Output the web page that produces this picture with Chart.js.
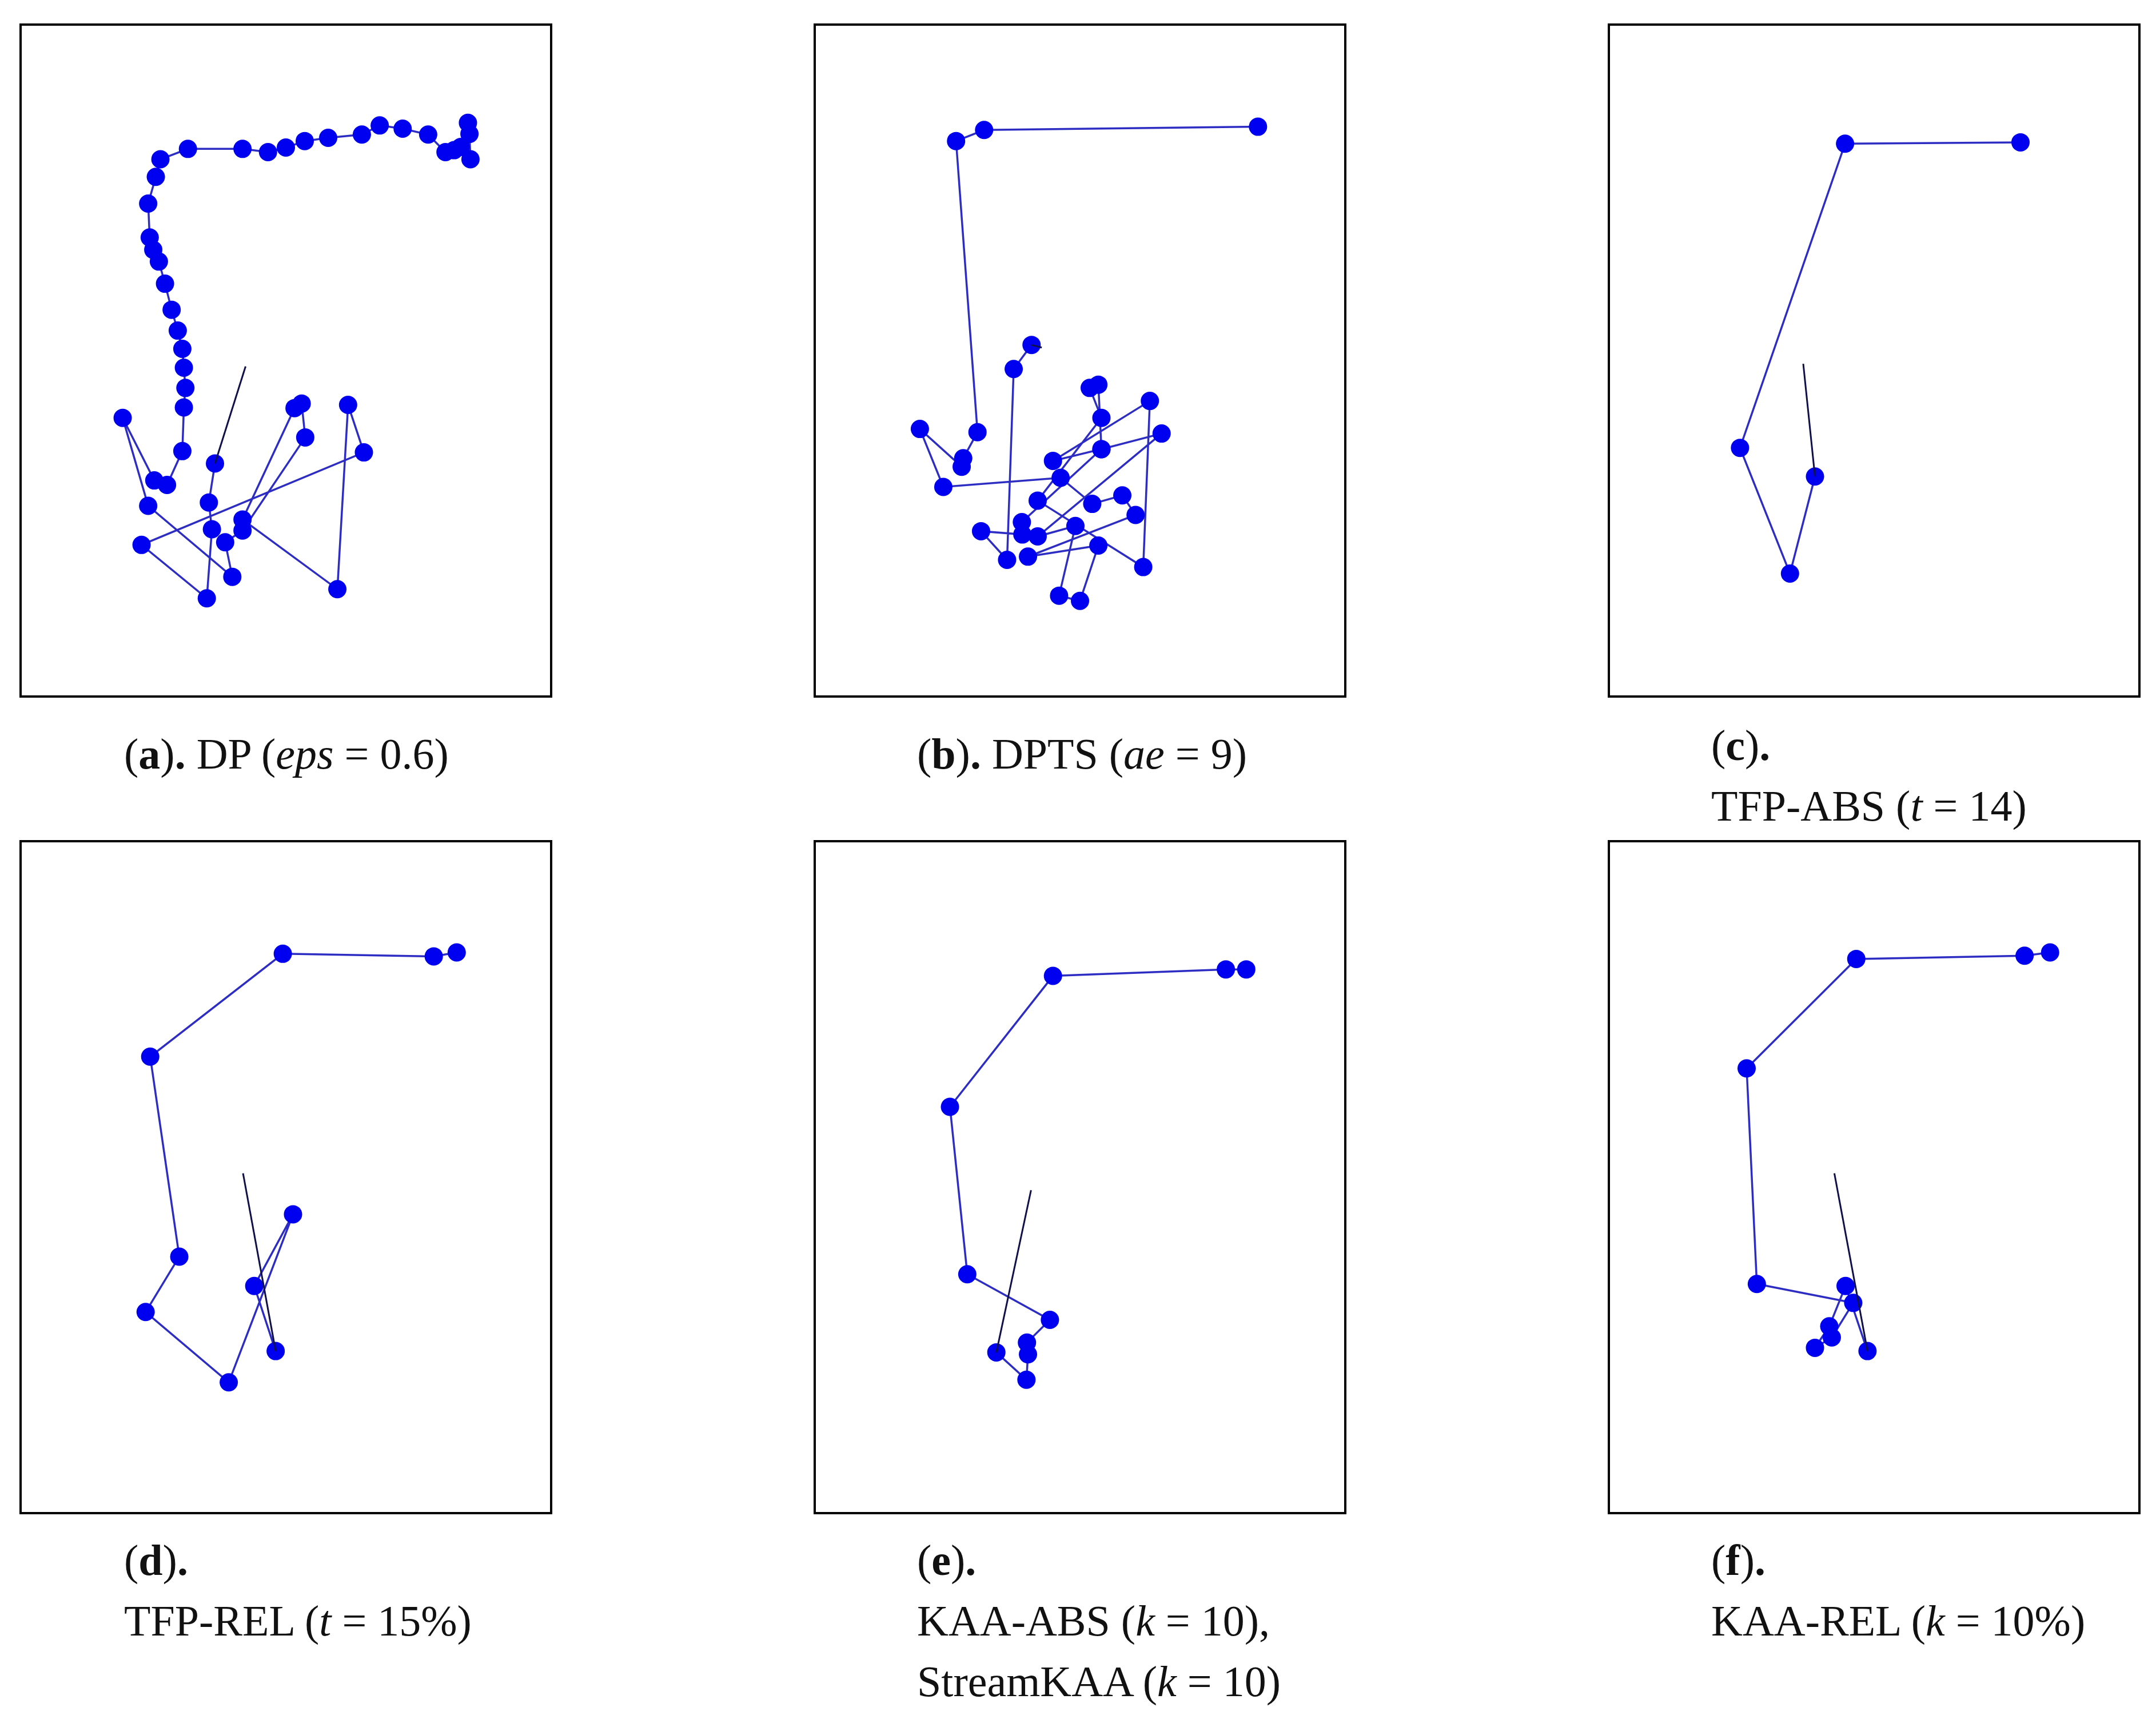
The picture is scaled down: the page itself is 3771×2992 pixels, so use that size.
<!DOCTYPE html>
<html>
<head>
<meta charset="utf-8">
<script src="https://cdn.jsdelivr.net/npm/chart.js@4.4.0/dist/chart.umd.min.js"></script>
<style>
  html, body { margin: 0; padding: 0; background: #fff; }
  body { width: 3771px; height: 2992px; position: relative; overflow: hidden; }
  .panel { position: absolute; border: 4px solid #000; box-sizing: border-box; background: #fff; }
  .panel canvas { display: block; }
  .cap { position: absolute; font-family: "Liberation Serif", "DejaVu Serif", serif; font-size: 76px; line-height: 106px; color: #111; white-space: nowrap; }
  .cap b { font-weight: bold; }
</style>
</head>
<body>

<script>
// trajectory points, in % of the panel box (x from left, y from top)
const dpX = [85.7, 86.0, 86.2, 84.3, 83.0, 81.3, 77.9, 72.9, 68.4, 64.9, 58.3, 53.7, 50.0, 46.5, 41.5, 30.8, 25.4, 24.5, 23.0, 23.3, 24.0, 25.1, 26.3, 27.6, 28.8, 29.7, 30.0, 30.3, 30.0, 29.7, 26.7, 24.2, 18.0, 23.0, 39.5, 38.1, 41.5, 53.8, 53.1, 51.7, 41.5, 60.1, 62.2, 65.3, 21.7, 34.5, 35.5, 34.9, 36.1];
const dpY = [13.5, 15.2, 19.1, 17.2, 17.7, 18.0, 15.3, 14.4, 13.9, 15.3, 15.8, 16.3, 17.3, 18.0, 17.5, 17.5, 19.1, 21.8, 25.9, 31.1, 33.0, 34.8, 38.2, 42.2, 45.4, 48.2, 51.1, 54.2, 57.2, 63.9, 69.1, 68.4, 58.8, 72.3, 83.2, 77.9, 76.1, 61.8, 56.6, 57.3, 74.4, 85.1, 56.8, 64.1, 78.3, 86.5, 75.9, 71.8, 65.8];

const dptsX = [40.5, 37.0, 35.7, 30.6, 38.7, 38.6, 54.2, 44.7, 63.7, 62.4, 41.7, 54.2, 51.9, 53.6, 54.2, 66.0, 41.7, 49.1, 45.9, 50.0, 53.6, 39.8, 60.9, 58.3, 52.4, 46.2, 23.2, 18.6, 26.8, 27.1, 29.9, 25.7, 31.2, 84.9];
const dptsY = [47.6, 51.3, 80.6, 76.2, 76.7, 74.8, 63.6, 65.4, 56.2, 81.7, 71.5, 58.8, 54.2, 53.7, 63.6, 61.2, 77.0, 75.4, 86.1, 86.9, 78.4, 80.1, 73.7, 70.7, 72.0, 68.0, 69.4, 60.5, 66.3, 65.0, 61.0, 16.3, 14.6, 14.1];

const tfpAbsX = [78.7, 44.3, 23.7, 33.5, 38.4];
const tfpAbsY = [16.5, 16.7, 63.4, 82.7, 67.8];

const tfpRelX = [83.5, 79.0, 49.4, 23.4, 29.1, 22.5, 38.8, 51.4, 43.8, 48.0];
const tfpRelY = [15.5, 16.1, 15.7, 31.5, 62.2, 70.7, 81.5, 55.7, 66.7, 76.7];

const kaaAbsX = [82.6, 78.6, 44.7, 24.5, 27.9, 44.1, 39.6, 39.8, 39.5, 33.6];
const kaaAbsY = [18.1, 18.1, 19.1, 39.2, 64.9, 71.9, 75.4, 77.2, 81.1, 76.9];

const kaaRelX = [48.7, 44.4, 41.2, 38.4, 41.7, 45.9, 27.0, 25.0, 46.5, 79.5, 84.5];
const kaaRelY = [76.7, 66.7, 72.9, 76.2, 74.6, 69.3, 66.4, 33.3, 16.5, 16.0, 15.5];

// short black segment in each panel: [x1, y1, x2, y2]
const tailA = [36.1, 65.8, 42.1, 50.9];
const tailB = [40.5, 47.6, 42.5, 48.0];
const tailC = [38.4, 67.8, 36.1, 50.5];
const tailD = [48.0, 76.7, 41.6, 49.4];
const tailE = [33.6, 76.9, 40.4, 52.0];
const tailF = [48.7, 76.7, 42.2, 49.4];

const captions = [
  ['(<b>a</b>)<b>.</b> DP (<i>eps</i> = 0.6)'],
  ['(<b>b</b>)<b>.</b> DPTS (<i>ae</i> = 9)'],
  ['(<b>c</b>)<b>.</b>', 'TFP-ABS (<i>t</i> = 14)'],
  ['(<b>d</b>)<b>.</b>', 'TFP-REL (<i>t</i> = 15%)'],
  ['(<b>e</b>)<b>.</b>', 'KAA-ABS (<i>k</i> = 10),', 'StreamKAA (<i>k</i> = 10)'],
  ['(<b>f</b>)<b>.</b>', 'KAA-REL (<i>k</i> = 10%)']
];

const panels = [
  { xs: dpX, ys: dpY, tail: tailA, left: 34, top: 41, capTop: 1265 },
  { xs: dptsX, ys: dptsY, tail: tailB, left: 1423, top: 41, capTop: 1265 },
  { xs: tfpAbsX, ys: tfpAbsY, tail: tailC, left: 2812, top: 41, capTop: 1250 },
  { xs: tfpRelX, ys: tfpRelY, tail: tailD, left: 34, top: 1469, capTop: 2675 },
  { xs: kaaAbsX, ys: kaaAbsY, tail: tailE, left: 1423, top: 1469, capTop: 2675 },
  { xs: kaaRelX, ys: kaaRelY, tail: tailF, left: 2812, top: 1469, capTop: 2675 }
];
const capLeft = [217, 1604, 2993, 217, 1604, 2993];

const boxW = 932, boxH = 1179;

panels.forEach(function (p, i) {
    const div = document.createElement('div');
    div.className = 'panel';
    div.style.left = p.left + 'px';
    div.style.top = p.top + 'px';
    div.style.width = boxW + 'px';
    div.style.height = boxH + 'px';
    const canvas = document.createElement('canvas');
    canvas.width = boxW - 8;
    canvas.height = boxH - 8;
    div.appendChild(canvas);
    document.body.appendChild(div);

    const cap = document.createElement('div');
    cap.className = 'cap';
    cap.style.left = capLeft[i] + 'px';
    cap.style.top = p.capTop + 'px';
    cap.innerHTML = captions[i].join('<br>');
    document.body.appendChild(cap);

    const pts = p.xs.map((x, k) => ({ x: x, y: p.ys[k] }));
    const tailPts = [{ x: p.tail[0], y: p.tail[1] }, { x: p.tail[2], y: p.tail[3] }];

    new Chart(canvas.getContext('2d'), {
        type: 'scatter',
        data: {
            datasets: [{
                data: pts,
                showLine: true,
                borderColor: 'rgb(45, 45, 195)',
                borderWidth: 3.5,
                pointRadius: 16,
                pointBackgroundColor: '#0000f0',
                pointBorderWidth: 0,
                order: 2
            }, {
                data: tailPts,
                showLine: true,
                borderColor: '#10104a',
                borderWidth: 3,
                pointRadius: 0,
                order: 1
            }]
        },
        options: {
            responsive: false,
            animation: false,
            devicePixelRatio: 1,
            layout: { padding: 0 },
            plugins: { legend: { display: false }, tooltip: { enabled: false } },
            scales: {
                x: { type: 'linear', min: 0, max: 100, display: false },
                y: { type: 'linear', min: 0, max: 100, reverse: true, display: false }
            }
        }
    });
});
</script>
</body>
</html>
